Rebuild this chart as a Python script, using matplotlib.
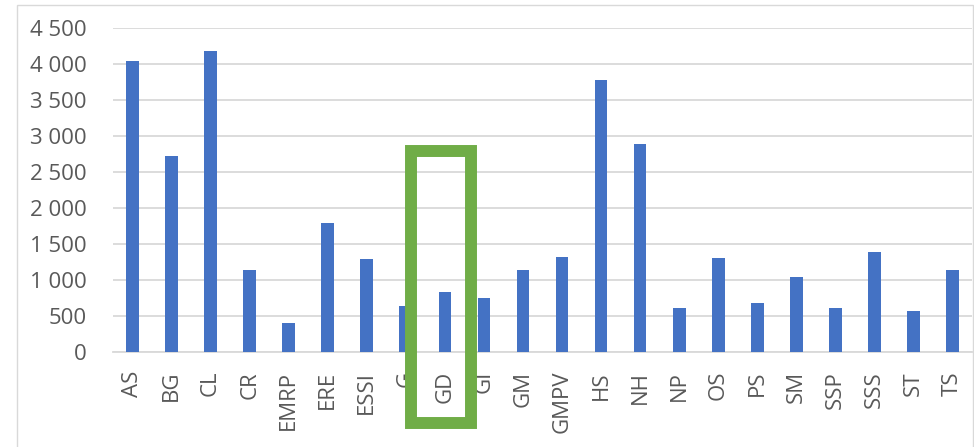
import matplotlib
matplotlib.use("Agg")
import matplotlib.pyplot as plt
from matplotlib.patches import Rectangle
from matplotlib.ticker import FuncFormatter, MultipleLocator

categories = ["AS", "BG", "CL", "CR", "EMRP", "ERE", "ESSI", "G", "GD", "GI", "GM",
              "GMPV", "HS", "NH", "NP", "OS", "PS", "SM", "SSP", "SSS", "ST", "TS"]
values = [4040, 2720, 4180, 1140, 400, 1790, 1290, 630, 830, 740, 1140,
          1320, 3780, 2880, 600, 1300, 670, 1040, 600, 1390, 560, 1130]
highlight = "GD"

plt.rcParams['font.family'] = ['Open Sans', 'DejaVu Sans']

W, H = 974, 447
fig = plt.figure(figsize=(W / 100, H / 100), dpi=100)
fig.patch.set_facecolor("white")

# outer chart frame
fig.patches.append(Rectangle((17 / W, -0.05), (973 - 17) / W, (447 - 5) / H + 0.05,
                             transform=fig.transFigure, fill=False,
                             edgecolor="#D9D9D9", lw=1.0))

ax = fig.add_axes([113 / W, (H - 351.5) / H, (972 - 113) / W, (351.5 - 28) / H])
x = list(range(len(categories)))
ax.bar(x, values, width=0.325, color="#4472C4", zorder=3)

ax.set_xlim(-0.5, len(categories) - 0.5)
ax.set_ylim(0, 4500)
ax.yaxis.set_major_locator(MultipleLocator(500))
ax.yaxis.set_major_formatter(FuncFormatter(lambda v, p: f"{int(v):,}".replace(",", " ")))
ax.grid(axis="y", color="#D9D9D9", lw=1.3, zorder=0)
ax.set_axisbelow(True)

for s in ["top", "right", "left"]:
    ax.spines[s].set_visible(False)
ax.spines["bottom"].set_color("#D9D9D9")
ax.spines["bottom"].set_linewidth(1.3)

ax.set_xticks(x)
ax.set_xticklabels(categories, rotation=90)
ax.tick_params(axis="x", length=0, pad=14, labelsize=16, labelcolor="#595959")
ax.tick_params(axis="y", length=0, pad=19, labelsize=16, labelcolor="#595959")

# green highlight rectangle around the highlighted category
i = categories.index(highlight)
ax.add_patch(Rectangle((i - 0.87, -994), 1.54, 2788 + 994, fill=False,
                       edgecolor="#70AD47", lw=8.6, clip_on=False, zorder=5))

fig.savefig("out.png", dpi=100)
